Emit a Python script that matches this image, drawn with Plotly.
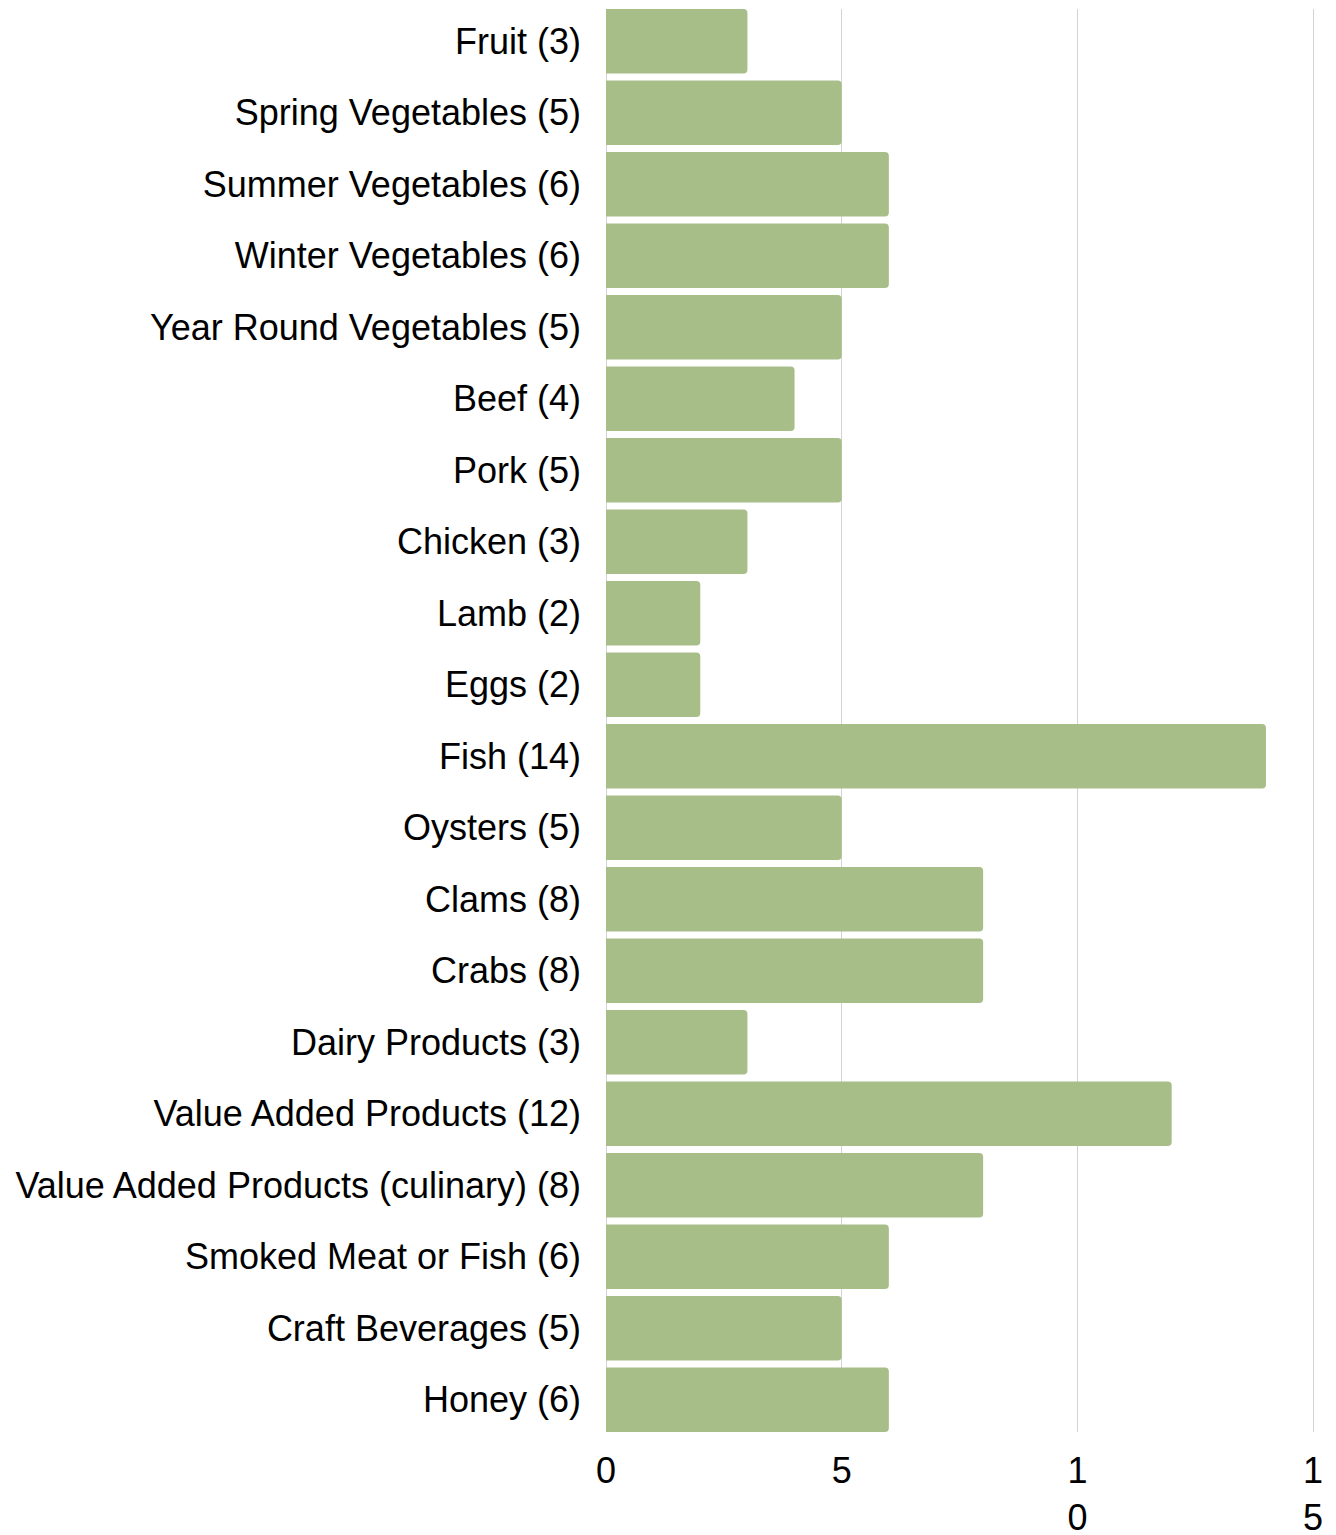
import plotly.graph_objects as go

# Product categories and how many producers offer each
categories = [
    "Fruit", "Spring Vegetables", "Summer Vegetables", "Winter Vegetables",
    "Year Round Vegetables", "Beef", "Pork", "Chicken", "Lamb", "Eggs",
    "Fish", "Oysters", "Clams", "Crabs", "Dairy Products",
    "Value Added Products", "Value Added Products (culinary)",
    "Smoked Meat or Fish", "Craft Beverages", "Honey",
]
counts = [3, 5, 6, 6, 5, 4, 5, 3, 2, 2, 14, 5, 8, 8, 3, 12, 8, 6, 5, 6]

x_tick_values = [0, 5, 10, 15]
x_tick_text = ["0", "5", "1<br>0", "1<br>5"]

labels = [f"{name} ({n})" for name, n in zip(categories, counts)]

BAR_GAP = 0.098
FONT = "Liberation Sans, Arial, sans-serif"
GRID = "#d2d2d2"

fig = go.Figure(
    go.Bar(
        x=counts,
        y=labels,
        orientation="h",
        marker=dict(color="#a7be89", line=dict(width=0)),
        hoverinfo="x+y",
    )
)

n = len(labels)
fig.update_layout(
    width=1336,
    height=1535,
    margin=dict(l=606, r=21, t=9, b=103),
    paper_bgcolor="white",
    plot_bgcolor="white",
    bargap=BAR_GAP,
    barcornerradius=4,
    showlegend=False,
    font=dict(family=FONT, size=36, color="#000000"),
)

fig.update_xaxes(
    range=[0, 15.04],
    tickvals=x_tick_values,
    ticktext=x_tick_text,
    showgrid=True,
    gridcolor=GRID,
    gridwidth=1,
    zeroline=True,
    zerolinecolor=GRID,
    zerolinewidth=1,
    showline=False,
    ticks="",
    ticklabelstandoff=14,
    automargin=False,
    tickfont=dict(family=FONT, size=36, color="#000000"),
)

fig.update_yaxes(
    type="category",
    categoryorder="array",
    categoryarray=labels,
    range=[n - 0.5 - BAR_GAP / 2, -0.5 + BAR_GAP / 2],
    showgrid=False,
    zeroline=False,
    showline=False,
    ticks="",
    ticklabelstandoff=24,
    automargin=False,
    tickfont=dict(family=FONT, size=36, color="#000000"),
)

fig.write_html("out.html")
